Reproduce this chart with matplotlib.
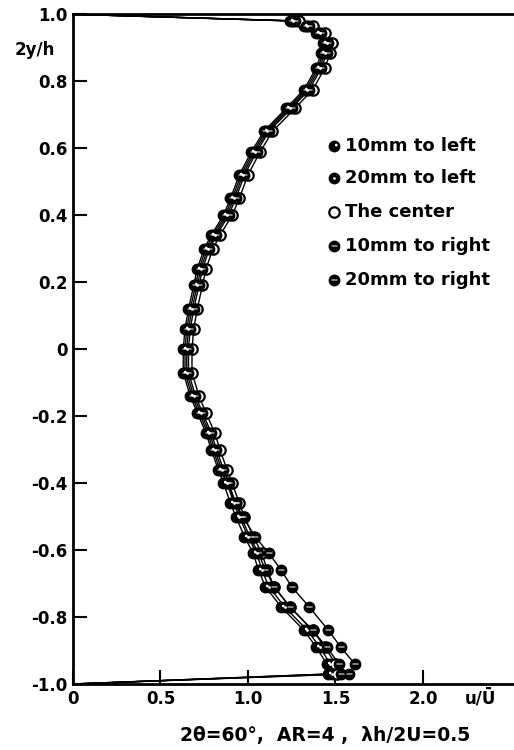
import numpy as np
import matplotlib
matplotlib.use("Agg")
import matplotlib.pyplot as plt
from matplotlib.path import Path

# measured points, 2y/h against u/U
y_pos = [1.0, 0.98, 0.965, 0.945, 0.915, 0.885, 0.84, 0.775, 0.72, 0.65, 0.59, 0.52,
         0.45, 0.40, 0.34, 0.30, 0.24, 0.19, 0.12, 0.06, 0.0, -0.07, -0.14, -0.19,
         -0.25, -0.30, -0.36, -0.40, -0.46, -0.50, -0.56, -0.61, -0.66, -0.71, -0.77,
         -0.84, -0.89, -0.94, -0.97, -1.0]

u_left10 = [0, 1.24, 1.32, 1.39, 1.43, 1.42, 1.39, 1.32, 1.22, 1.09, 1.02, 0.95,
            0.90, 0.86, 0.79, 0.75, 0.71, 0.69, 0.66, 0.64, 0.63, 0.63, 0.67, 0.71,
            0.76, 0.79, 0.83, 0.86, 0.90, 0.93, 0.98, 1.03, 1.06, 1.10, 1.19, 1.32,
            1.39, 1.45, 1.46, 0]
u_left20 = [0, 1.26, 1.34, 1.41, 1.45, 1.44, 1.41, 1.34, 1.24, 1.11, 1.04, 0.97,
            0.92, 0.88, 0.81, 0.77, 0.73, 0.71, 0.68, 0.66, 0.65, 0.65, 0.69, 0.73,
            0.78, 0.81, 0.85, 0.88, 0.92, 0.95, 1.00, 1.05, 1.08, 1.12, 1.21, 1.34,
            1.41, 1.47, 1.48, 0]
u_center = [0, 1.29, 1.37, 1.44, 1.48, 1.47, 1.44, 1.37, 1.27, 1.14, 1.07, 1.00,
            0.95, 0.91, 0.84, 0.80, 0.76, 0.74, 0.71, 0.69, 0.68, 0.68, 0.72, 0.76,
            0.81, 0.84, 0.88, 0.91, 0.95, 0.98, 1.03, 1.08, 1.11, 1.15, 1.24, 1.37,
            1.44, 1.50, 1.51, 0]
u_right10 = [0, 1.27, 1.35, 1.42, 1.46, 1.45, 1.42, 1.35, 1.25, 1.12, 1.05, 0.98,
             0.93, 0.89, 0.82, 0.78, 0.74, 0.72, 0.69, 0.67, 0.66, 0.66, 0.70, 0.74,
             0.79, 0.82, 0.86, 0.89, 0.93, 0.96, 1.01, 1.06, 1.10, 1.15, 1.24, 1.37,
             1.45, 1.52, 1.53, 0]
u_right20 = [0, 1.25, 1.33, 1.40, 1.44, 1.43, 1.40, 1.33, 1.23, 1.10, 1.03, 0.96,
             0.91, 0.87, 0.80, 0.76, 0.72, 0.70, 0.67, 0.65, 0.64, 0.64, 0.68, 0.72,
             0.77, 0.80, 0.84, 0.88, 0.93, 0.97, 1.04, 1.12, 1.19, 1.25, 1.35, 1.46,
             1.53, 1.61, 1.58, 0]

labels = ["10mm to left", "20mm to left", "The center", "10mm to right", "20mm to right"]
series = [u_left10, u_left20, u_center, u_right10, u_right20]

x_ticks = [0, 0.5, 1.0, 1.5, 2.0]
x_tick_labels = ["0", "0.5", "1.0", "1.5", "2.0"]
y_ticks = [1.0, 0.8, 0.6, 0.4, 0.2, 0, -0.2, -0.4, -0.6, -0.8, -1.0]
y_tick_labels = ["1.0", "0.8", "0.6", "0.4", "0.2", "0", "-0.2", "-0.4", "-0.6", "-0.8", "-1.0"]

MS = 7.5


def rect(x0, y0, x1, y1):
    return Path([(x0, y0), (x1, y0), (x1, y1), (x0, y1), (x0, y0)],
                [Path.MOVETO, Path.LINETO, Path.LINETO, Path.LINETO, Path.CLOSEPOLY])


# white detail inside each black marker (None = open circle)
details = [Path.circle((0.17, 0.14), 0.13),
           Path.circle((0.0, 0.0), 0.13),
           None,
           rect(-0.3, 0.0, 0.3, 0.13),
           rect(-0.32, -0.02, 0.32, 0.06)]


def draw_marker(ax, x, y, k, **kw):
    if details[k] is None:
        ax.plot(x, y, ls="none", marker="o", ms=MS, mfc="white", mec="black",
                mew=1.6, zorder=4, **kw)
        return
    ax.plot(x, y, ls="none", marker="o", ms=MS, mfc="black", mec="black",
            mew=1.0, zorder=4, **kw)
    m = np.max(np.abs(details[k].vertices))
    ax.plot(x, y, ls="none", marker=details[k], ms=MS * 2 * m, mfc="white",
            mec="none", zorder=5, **kw)


fig = plt.figure(figsize=(5.14, 7.5), dpi=100)
ax = fig.add_axes([0.142, 0.088, 0.858, 0.893])

for k, u in enumerate(series):
    ax.plot(u, y_pos, color="black", lw=1.0, zorder=3)
    draw_marker(ax, u[1:-1], y_pos[1:-1], k)

ax.set_xlim(0, 2.52)
ax.set_ylim(-1.0, 1.0)
ax.spines["right"].set_visible(False)
for s in ["left", "bottom", "top"]:
    ax.spines[s].set_linewidth(2.0)
ax.set_xticks(x_ticks)
ax.set_xticklabels(x_tick_labels)
ax.set_yticks(y_ticks)
ax.set_yticklabels(y_tick_labels)
ax.tick_params(direction="in", length=10, width=1.5, labelsize=12, pad=4)
for t in ax.get_xticklabels() + ax.get_yticklabels():
    t.set_fontweight("bold")

ax.text(-0.041, 0.946, "2y/h", transform=ax.transAxes, ha="right", va="center",
        fontsize=12, fontweight="bold")
ax.text(0.923, -0.022, "u/Ū", transform=ax.transAxes, ha="center", va="center",
        fontsize=12, fontweight="bold")
fig.text(0.632, 0.02, "2θ=60°,  AR=4 ,  λh/2U=0.5", ha="center", va="center",
         fontsize=13.5, fontweight="bold")

# legend
leg_y = [0.804, 0.755, 0.704, 0.654, 0.603]
for k, lab in enumerate(labels):
    draw_marker(ax, [0.592], [leg_y[k]], k, transform=ax.transAxes, clip_on=False)
    ax.text(0.617, leg_y[k], lab, transform=ax.transAxes, ha="left", va="center",
            fontsize=13, fontweight="bold")

fig.savefig("out.png", dpi=100)
